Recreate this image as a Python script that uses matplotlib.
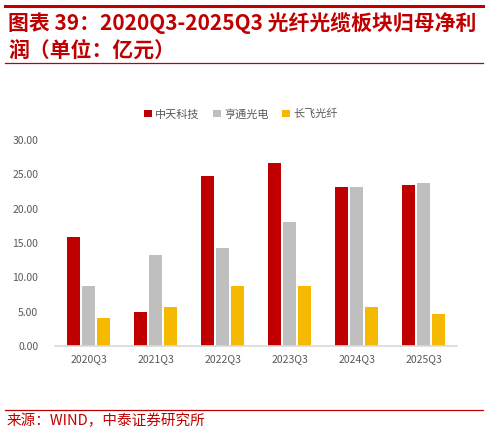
import matplotlib
matplotlib.use('Agg')
import matplotlib.pyplot as plt
import numpy as np
from matplotlib.lines import Line2D
from matplotlib.patches import Patch

plt.rcParams['font.family'] = ['Noto Sans CJK SC', 'DejaVu Sans']

quarters = ['2020Q3', '2021Q3', '2022Q3', '2023Q3', '2024Q3', '2025Q3']
zhongtian = [15.9, 4.9, 24.7, 26.6, 23.1, 23.4]
hengtong = [8.7, 13.2, 14.3, 18.0, 23.1, 23.8]
changfei = [4.1, 5.7, 8.7, 8.8, 5.7, 4.7]
series_names = ['中天科技', '亨通光电', '长飞光纤']
colors = ['#C00000', '#BFBFBF', '#F5B900']

RED = '#C00000'
GRAY_TXT = '#595959'

fig = plt.figure(figsize=(4.88, 4.34), dpi=100)
ax = fig.add_axes([0.1127, 0.2028, 0.8238, 0.4746])

x = np.arange(len(quarters))
w = 0.18
step = 0.224
for i, vals in enumerate([zhongtian, hengtong, changfei]):
    ax.bar(x + (i - 1) * step, vals, width=w, color=colors[i], label=series_names[i])

ax.set_xlim(-0.5, len(quarters) - 0.5)
ax.set_ylim(0, 30)
ax.set_yticks(np.arange(0, 31, 5))
ax.set_yticklabels(['%.2f' % v for v in np.arange(0, 31, 5)])
ax.set_xticks(x)
ax.set_xticklabels(quarters)
ax.tick_params(axis='both', length=0, labelsize=7.5, colors=GRAY_TXT)
ax.tick_params(axis='x', pad=6)
ax.tick_params(axis='y', pad=12)
for s in ['top', 'right', 'left']:
    ax.spines[s].set_visible(False)
ax.spines['bottom'].set_color('#D9D9D9')
ax.spines['bottom'].set_linewidth(1.2)

handles = [Patch(facecolor=c, edgecolor='none') for c in colors]
fig.legend(handles, series_names, loc='center', bbox_to_anchor=(0.494, 0.737),
           ncol=3, frameon=False, fontsize=8, labelcolor=GRAY_TXT,
           handlelength=0.7, handleheight=0.7, handletextpad=0.3, columnspacing=1.2)

# header / footer rules
fig.add_artist(Line2D([5 / 488, 483 / 488], [1 - 6 / 434, 1 - 6 / 434], color=RED, lw=2.2))
fig.add_artist(Line2D([5 / 488, 483 / 488], [1 - 63 / 434, 1 - 63 / 434], color=RED, lw=0.9))
fig.add_artist(Line2D([5 / 488, 483 / 488], [1 - 410 / 434, 1 - 410 / 434], color=RED, lw=0.9))

fig.text(8 / 488, 1 - 23 / 434, '图表 39：2020Q3-2025Q3 光纤光缆板块归母净利',
         color=RED, fontsize=15, fontweight='bold', style='italic', va='center', ha='left')
fig.text(8 / 488, 1 - 50 / 434, '润（单位：亿元）',
         color=RED, fontsize=15, fontweight='bold', style='italic', va='center', ha='left')
fig.text(7 / 488, 1 - 421 / 434, '来源：WIND，中泰证券研究所',
         color=RED, fontsize=10.5, va='center', ha='left')

fig.savefig('out.png', dpi=100)
